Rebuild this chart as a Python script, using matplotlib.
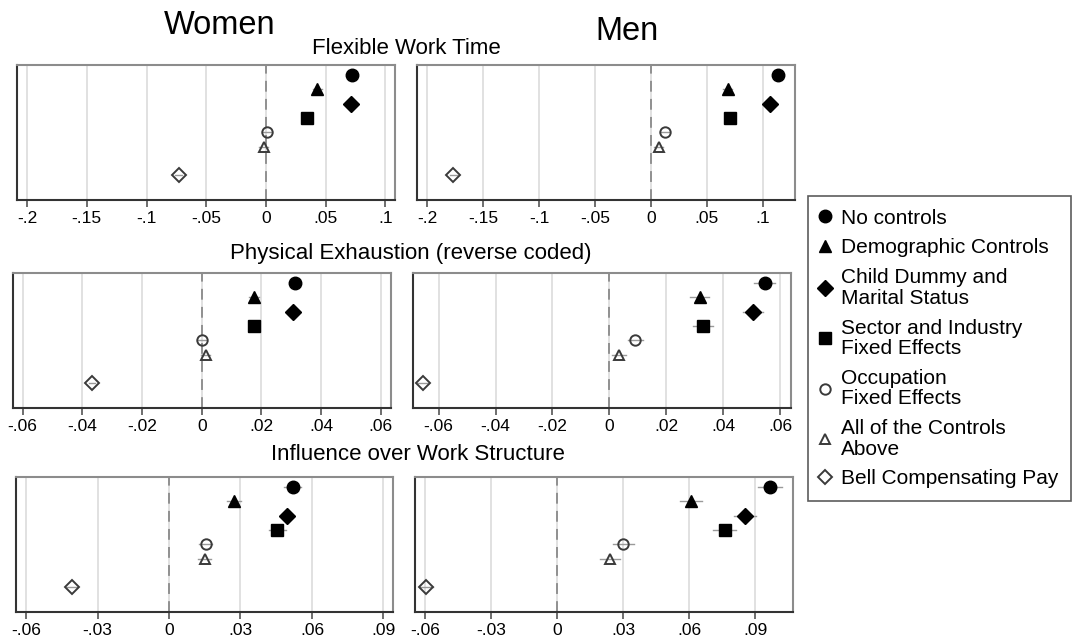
import matplotlib
matplotlib.use("Agg")
import matplotlib.pyplot as plt
from matplotlib.lines import Line2D
from matplotlib.ticker import FuncFormatter

plt.rcParams['font.family'] = ['Liberation Sans', 'DejaVu Sans']

# Specifications (one row per estimate), top to bottom
specs = ['No controls', 'Demographic Controls', 'Child Dummy and\nMarital Status',
         'Sector and Industry\nFixed Effects', 'Occupation\nFixed Effects',
         'All of the Controls\nAbove', 'Bell Compensating Pay']
rows = [1, 2, 3, 4, 5, 6, 8]

# Coefficients and CI half-widths
women_flex = [0.072, 0.043, 0.071, 0.034, 0.001, -0.002, -0.073]
women_flex_ci = [0.004, 0.004, 0.004, 0.004, 0.004, 0.004, 0.003]
men_flex = [0.113, 0.0685, 0.106, 0.071, 0.0125, 0.007, -0.1765]
men_flex_ci = [0.004, 0.004, 0.004, 0.004, 0.004, 0.004, 0.003]

women_phys = [0.0313, 0.0176, 0.0307, 0.0174, 0.0, 0.0013, -0.0367]
women_phys_ci = [0.0016, 0.0016, 0.0016, 0.0016, 0.0015, 0.0015, 0.001]
men_phys = [0.0545, 0.0317, 0.0505, 0.0329, 0.0091, 0.0033, -0.0656]
men_phys_ci = [0.0036, 0.0034, 0.0036, 0.0036, 0.0026, 0.0025, 0.0015]

women_infl = [0.0519, 0.0273, 0.0494, 0.0454, 0.0154, 0.015, -0.0406]
women_infl_ci = [0.0035, 0.003, 0.003, 0.0035, 0.0028, 0.0028, 0.002]
men_infl = [0.0969, 0.061, 0.0852, 0.0762, 0.030, 0.0239, -0.0596]
men_infl_ci = [0.0055, 0.005, 0.005, 0.0053, 0.0047, 0.0045, 0.003]

flex_ticks = [-0.2, -0.15, -0.1, -0.05, 0, 0.05, 0.1]
phys_ticks = [-0.06, -0.04, -0.02, 0, 0.02, 0.04, 0.06]
infl_ticks = [-0.06, -0.03, 0, 0.03, 0.06, 0.09]

# marker, filled?, size
styles = [('o', True, 9), ('^', True, 9), ('D', True, 8), ('s', True, 8.5),
          ('o', False, 7.5), ('^', False, 7.5), ('D', False, 7)]


def stata_fmt(v, pos):
    if abs(v) < 1e-12:
        return '0'
    s = ('%.2f' % v).rstrip('0')
    return s.replace('0.', '.')


def draw_panel(rect, coefs, cis, ticks, xlim):
    ax = fig.add_axes(rect)
    for t in ticks:
        ax.axvline(t, color='#dcdcdc', lw=1.2, zorder=0)
    ax.axvline(0, color='#8a8a8a', lw=1.3, ls=(0, (6, 4)), zorder=1)
    for y, c, ci, (m, filled, ms) in zip(rows, coefs, cis, styles):
        ax.plot([c - ci, c + ci], [y, y], color='#9a9a9a', lw=1.0, zorder=2)
        if filled:
            ax.plot(c, y, marker=m, ms=ms, color='black', mec='black', ls='none', zorder=3)
        else:
            ax.plot(c, y, marker=m, ms=ms, mfc='none', mec='#3a3a3a', mew=1.4,
                    ls='none', zorder=3)
    ax.set_xlim(*xlim)
    ax.set_ylim(9.73, 0.31)
    ax.set_yticks([])
    ax.set_xticks(ticks)
    ax.xaxis.set_major_formatter(FuncFormatter(stata_fmt))
    ax.tick_params(axis='x', length=5, width=1.2, color='#555555', labelsize=12.5, pad=3)
    for side in ['left', 'bottom']:
        ax.spines[side].set_color('#333333')
        ax.spines[side].set_linewidth(1.5)
    for side in ['top', 'right']:
        ax.spines[side].set_color('#8c8c8c')
        ax.spines[side].set_linewidth(1.5)
    return ax


W, H = 1074, 640
fig = plt.figure(figsize=(W / 100, H / 100), dpi=100)


def px_rect(x0, y0, x1, y1):
    return [x0 / W, 1 - y1 / H, (x1 - x0) / W, (y1 - y0) / H]


draw_panel(px_rect(17, 65, 395, 200), women_flex, women_flex_ci, flex_ticks, (-0.2084, 0.108))
draw_panel(px_rect(417, 65, 795, 200), men_flex, men_flex_ci, flex_ticks, (-0.2089, 0.1286))
draw_panel(px_rect(13, 273, 391, 408), women_phys, women_phys_ci, phys_ticks, (-0.0632, 0.0634))
draw_panel(px_rect(413, 273, 791, 408), men_phys, men_phys_ci, phys_ticks, (-0.069, 0.0638))
draw_panel(px_rect(16, 477, 393, 612), women_infl, women_infl_ci, infl_ticks, (-0.0642, 0.094))
draw_panel(px_rect(415, 477, 793, 612), men_infl, men_infl_ci, infl_ticks, (-0.0647, 0.1072))

fig.text(220 / W, 1 - 25 / H, 'Women', fontsize=23.5, ha='center', va='center')
fig.text(627 / W, 1 - 31 / H, 'Men', fontsize=23.5, ha='center', va='center')
fig.text(406 / W, 1 - 48 / H, 'Flexible Work Time', fontsize=16, ha='center', va='center')
fig.text(411 / W, 1 - 254 / H, 'Physical Exhaustion (reverse coded)', fontsize=16,
         ha='center', va='center')
fig.text(418 / W, 1 - 454 / H, 'Influence over Work Structure', fontsize=16,
         ha='center', va='center')

handles = []
for m, filled, ms in styles:
    if filled:
        handles.append(Line2D([], [], marker=m, ms=ms, color='black', ls='none'))
    else:
        handles.append(Line2D([], [], marker=m, ms=ms, mfc='none', mec='#3a3a3a',
                              mew=1.4, ls='none'))
leg = fig.legend(handles, specs, loc='upper left', bbox_to_anchor=(808 / W, 1 - 196 / H),
                 fontsize=15.0, frameon=True, fancybox=False, edgecolor='#333333',
                 handlelength=0.45, handletextpad=0.55, labelspacing=0.52,
                 borderpad=0.6, borderaxespad=0)
leg.get_frame().set_linewidth(1.2)
for t in leg.get_texts():
    t.set_linespacing(1.1)

fig.savefig('out.png', dpi=100)
